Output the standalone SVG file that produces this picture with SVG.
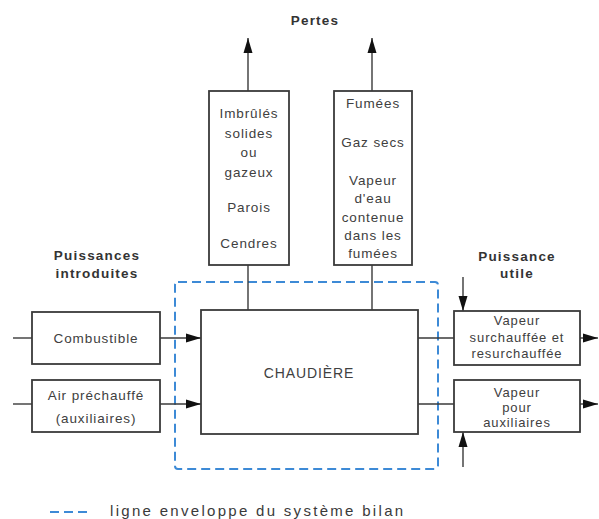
<svg xmlns="http://www.w3.org/2000/svg" width="599" height="519" viewBox="0 0 599 519">
<style>
.box{fill:#fff;stroke:#3a3a3a;stroke-width:1.8}
.ln{stroke:#3a3a3a;stroke-width:1.4;fill:none}
.t{font-family:"Liberation Sans",Arial,sans-serif;font-size:13.5px;fill:#404040;text-anchor:middle;letter-spacing:0.9px}
.ts{font-family:"Liberation Sans",Arial,sans-serif;font-size:13px;fill:#404040;text-anchor:middle;letter-spacing:0.9px}
.h{font-family:"Liberation Sans",Arial,sans-serif;font-size:13.5px;font-weight:bold;fill:#333;text-anchor:middle;letter-spacing:1.2px}
.env{fill:none;stroke:#3d8ad6;stroke-width:2;stroke-dasharray:9 5}
</style>
<defs>
<marker id="ah" viewBox="0 0 15 10" refX="15" refY="5" markerWidth="15" markerHeight="10" markerUnits="userSpaceOnUse" orient="auto">
<path d="M0,0.5 L15,5 L0,9.5 z" fill="#111"/>
</marker>
</defs>

<text class="h" x="315" y="25">Pertes</text>
<text class="h" x="97" y="260">Puissances</text>
<text class="h" x="97" y="278">introduites</text>
<text class="h" x="517" y="261">Puissance</text>
<text class="h" x="517" y="278">utile</text>

<rect id="envelope" class="env" x="175" y="282" width="263" height="187" rx="3"/>

<g id="connectors">
<line class="ln" x1="248" y1="91" x2="248" y2="38" marker-end="url(#ah)"/>
<line class="ln" x1="372" y1="91" x2="372" y2="38" marker-end="url(#ah)"/>
<line class="ln" x1="248" y1="265" x2="248" y2="310"/>
<line class="ln" x1="372" y1="265" x2="372" y2="310"/>
<line class="ln" x1="13" y1="338" x2="32" y2="338"/>
<line class="ln" x1="13" y1="404" x2="32" y2="404"/>
<line class="ln" x1="160" y1="338" x2="201" y2="338" marker-end="url(#ah)"/>
<line class="ln" x1="160" y1="404" x2="201" y2="404" marker-end="url(#ah)"/>
<line class="ln" x1="418" y1="338" x2="454" y2="338"/>
<line class="ln" x1="418" y1="404" x2="454" y2="404"/>
<line class="ln" x1="580" y1="338" x2="598" y2="338" marker-end="url(#ah)"/>
<line class="ln" x1="580" y1="404" x2="598" y2="404" marker-end="url(#ah)"/>
<line class="ln" x1="463" y1="277" x2="463" y2="311" marker-end="url(#ah)"/>
<line class="ln" x1="463" y1="467" x2="463" y2="432" marker-end="url(#ah)"/>
</g>

<g id="pertes-gauche">
<rect class="box" x="209" y="91" width="80" height="174"/>
<text class="t" x="249" y="118">Imbrûlés</text>
<text class="t" x="249" y="138">solides</text>
<text class="t" x="249" y="157">ou</text>
<text class="t" x="249" y="177">gazeux</text>
<text class="t" x="249" y="212">Parois</text>
<text class="t" x="249" y="248">Cendres</text>
</g>

<g id="pertes-droite">
<rect class="box" x="334" y="91" width="78" height="174"/>
<text class="t" x="373" y="108">Fumées</text>
<text class="t" x="373" y="147">Gaz secs</text>
<text class="t" x="373" y="185">Vapeur</text>
<text class="t" x="373" y="203">d'eau</text>
<text class="t" x="373" y="222">contenue</text>
<text class="t" x="373" y="240">dans les</text>
<text class="t" x="373" y="258">fumées</text>
</g>

<g id="chaudiere">
<rect class="box" x="201" y="310" width="217" height="124"/>
<text class="t" x="309" y="378" style="font-size:14px">CHAUDIÈRE</text>
</g>

<g id="combustible">
<rect class="box" x="32" y="312" width="128" height="52"/>
<text class="t" x="96" y="343">Combustible</text>
</g>

<g id="air">
<rect class="box" x="32" y="380" width="128" height="52"/>
<text class="t" x="96" y="400">Air préchauffé</text>
<text class="t" x="96" y="423">(auxiliaires)</text>
</g>

<g id="vapeur-surchauffee">
<rect class="box" x="454" y="311" width="126" height="54"/>
<text class="ts" x="517" y="325">Vapeur</text>
<text class="ts" x="517" y="342">surchauffée et</text>
<text class="ts" x="517" y="358">resurchauffée</text>
</g>

<g id="vapeur-auxiliaires">
<rect class="box" x="454" y="380" width="126" height="52"/>
<text class="ts" x="517" y="397">Vapeur</text>
<text class="ts" x="517" y="412">pour</text>
<text class="ts" x="517" y="427">auxiliaires</text>
</g>

<g id="legende">
<line class="env" x1="50" y1="512" x2="92" y2="512"/>
<text x="110" y="516" style="font-family:'Liberation Sans',Arial,sans-serif;font-size:15px;fill:#3a3a3a;letter-spacing:2.3px">ligne enveloppe du système bilan</text>
</g>
</svg>
